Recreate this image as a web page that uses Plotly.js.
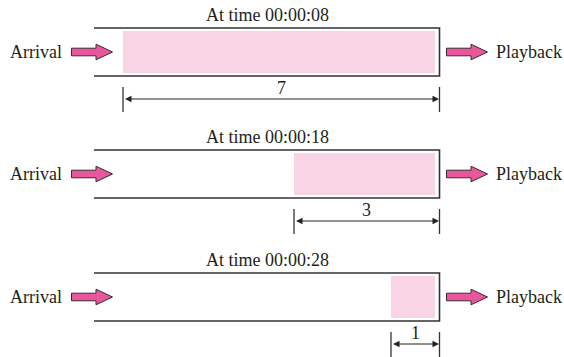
<!DOCTYPE html>
<html>
<head>
<meta charset="utf-8">
<script src="https://cdn.plot.ly/plotly-3.0.1.min.js"></script>
<style>html,body{margin:0;padding:0;background:#fff;}#chart{width:564px;height:357px;}</style>
</head>
<body>
<div id="chart"></div>
<script>
// Data
const times = ['00:00:08', '00:00:18', '00:00:28'];
const buffered = [7, 3, 1];              // seconds of video held in the buffer
const fillLeft = [123, 294, 391];        // left edge of buffered region (diagram units)
const panelTop = [28, 150, 273];         // top of each buffer box (diagram units)
const boxLeft = 94, boxRight = 439.5, fillRight = 435;
const boxH = 48;

const FONT = {family: 'Liberation Serif, Times New Roman, serif', size: 18, color: '#231f20'};
const LINE = '#333333';
const PINK = '#f9d4e4';
const ARROW = '#e8579c';

const shapes = [];
const annotations = [];

function fatArrow(x0, cy) {
  const sx = x0 + 24.5, tip = x0 + 41;
  return {
    type: 'path', xref: 'x', yref: 'y',
    path: `M ${x0},${cy-3.8} L ${sx},${cy-3.8} L ${sx},${cy-7.8} L ${tip},${cy} L ${sx},${cy+7.8} L ${sx},${cy+3.8} L ${x0},${cy+3.8} Z`,
    fillcolor: ARROW, line: {color: '#3a2a30', width: 1}
  };
}

times.forEach((t, i) => {
  const top = panelTop[i], bot = top + boxH, cy = top + 24;
  // pink buffered region
  shapes.push({type: 'rect', xref: 'x', yref: 'y', x0: fillLeft[i], x1: fillRight, y0: top + 3, y1: bot - 3,
    fillcolor: PINK, line: {width: 0}, layer: 'below'});
  // box outline (open on the left)
  shapes.push({type: 'path', xref: 'x', yref: 'y',
    path: `M ${boxLeft},${top} L ${boxRight},${top} L ${boxRight},${bot} L ${boxLeft},${bot}`,
    line: {color: LINE, width: 1.6}});
  // arrows
  shapes.push(fatArrow(71.5, cy));
  shapes.push(fatArrow(446.5, cy));
  // dimension ticks
  const dimY = top + 71;
  [fillLeft[i], boxRight].forEach(x => shapes.push({type: 'line', xref: 'x', yref: 'y',
    x0: x, x1: x, y0: top + 59, y1: top + 84, line: {color: LINE, width: 1.3}}));
  // dimension arrow
  annotations.push({x: boxRight - 0.5, y: dimY, ax: fillLeft[i] + 0.5, ay: dimY, axref: 'x', ayref: 'y',
    xref: 'x', yref: 'y', text: '', showarrow: true, arrowside: 'end+start', arrowhead: 2,
    arrowsize: 1.3, arrowwidth: 1, arrowcolor: '#222', standoff: 0, startstandoff: 0});
  // dimension label
  annotations.push({x: (fillLeft[i] + boxRight) / 2, y: top + 60, xref: 'x', yref: 'y', text: String(buffered[i]),
    showarrow: false, font: FONT, yanchor: 'middle'});
  // title
  annotations.push({x: 267, y: top - 13, xref: 'x', yref: 'y', text: 'At time ' + t,
    showarrow: false, font: FONT, yanchor: 'middle'});
  // Arrival / Playback
  annotations.push({x: 64, y: cy, xref: 'x', yref: 'y', text: 'Arrival', showarrow: false, font: FONT,
    xanchor: 'right', yanchor: 'middle'});
  annotations.push({x: 494, y: cy, xref: 'x', yref: 'y', text: 'Playback', showarrow: false, font: FONT,
    xanchor: 'left', yanchor: 'middle'});
});

const layout = {
  width: 564, height: 357,
  margin: {l: 0, r: 0, t: 0, b: 0},
  paper_bgcolor: '#fff', plot_bgcolor: '#fff',
  xaxis: {range: [0, 564], visible: false, fixedrange: true},
  yaxis: {range: [357, 0], visible: false, fixedrange: true},
  showlegend: false,
  shapes: shapes,
  annotations: annotations
};

Plotly.newPlot('chart', [{x: [], y: [], type: 'scatter', mode: 'markers', hoverinfo: 'skip'}], layout, {staticPlot: true, displayModeBar: false});
</script>
</body>
</html>
